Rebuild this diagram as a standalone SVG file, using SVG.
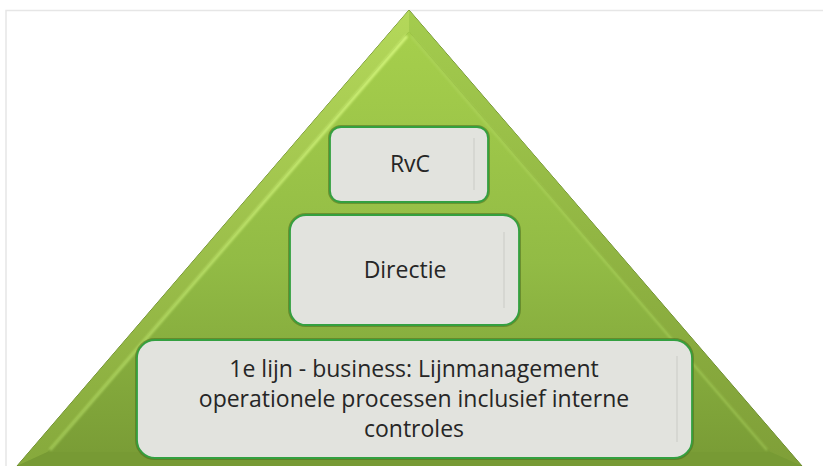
<svg xmlns="http://www.w3.org/2000/svg" width="823" height="466" viewBox="0 0 823 466">
  <defs>
    <linearGradient id="faceGrad" x1="0" y1="0" x2="0" y2="1">
      <stop offset="0" stop-color="#a6cf4c"/>
      <stop offset="0.55" stop-color="#92bb45"/>
      <stop offset="1" stop-color="#7a9d36"/>
    </linearGradient>
    <linearGradient id="leftBevel" x1="0" y1="0" x2="0" y2="1">
      <stop offset="0" stop-color="#b4d85a"/>
      <stop offset="1" stop-color="#86a93c"/>
    </linearGradient>
    <linearGradient id="rightBevel" x1="0" y1="0" x2="0" y2="1">
      <stop offset="0" stop-color="#a4cc4e"/>
      <stop offset="1" stop-color="#7f9f38"/>
    </linearGradient>
    <linearGradient id="ridge" x1="0" y1="0" x2="0" y2="1">
      <stop offset="0" stop-color="#d4f57c"/>
      <stop offset="1" stop-color="#b8e068" stop-opacity="0.6"/>
    </linearGradient>
    <filter id="soft" x="-5%" y="-5%" width="110%" height="110%">
      <feGaussianBlur stdDeviation="0.8"/>
    </filter>
  </defs>
  <style>
    .box { fill: #e2e3de; stroke: #34a040; stroke-width: 1.8; }
    .boxShadow { fill: none; stroke: #4b6e1e; stroke-width: 4; opacity: 0.55; }
    .gloss { stroke: #d6d7d2; stroke-width: 2; }
    .label { font-family: "Open Sans", "Noto Sans", "Liberation Sans", sans-serif; font-size: 23px; fill: #262626; text-anchor: middle; font-variant-ligatures: none; }
  </style>

  <!-- page frame -->
  <path d="M6,466 V10.5 H823" fill="none" stroke="#e6e6e6" stroke-width="1.5"/>

  <!-- pyramid -->
  <g id="pyramid">
    <polygon points="409,10 17,466 802,466" fill="#7d9f37" stroke="#5d7b26" stroke-width="1"/>
    <!-- left bevel -->
    <polygon points="409,10 17,466 47.5,452 409,31.5" fill="url(#leftBevel)"/>
    <!-- right bevel -->
    <polygon points="409,10 802,466 770.5,452 409,31.5" fill="url(#rightBevel)"/>
    <!-- bottom bevel -->
    <polygon points="17,466 802,466 770.5,452 47.5,452" fill="#779a34"/>
    <!-- front face -->
    <polygon points="409,31.5 47.5,452 770.5,452" fill="url(#faceGrad)"/>
    <!-- highlight ridges along the inner edges -->
    <line x1="407" y1="36" x2="50" y2="450" stroke="url(#ridge)" stroke-width="3" filter="url(#soft)"/>
    <line x1="411" y1="36" x2="767" y2="450" stroke="#b3d862" stroke-width="2" opacity="0.6" filter="url(#soft)"/>
  </g>

  <!-- RvC -->
  <g id="rvc">
    <rect class="boxShadow" x="330" y="127" width="158" height="75" rx="11"/>
    <rect class="box" x="330" y="127" width="158" height="75" rx="11"/>
    <line class="gloss" x1="474" y1="138" x2="474" y2="190"/>
    <text class="label" x="410" y="172">RvC</text>
  </g>

  <!-- Directie -->
  <g id="directie">
    <rect class="boxShadow" x="290" y="215" width="229" height="110" rx="16"/>
    <rect class="box" x="290" y="215" width="229" height="110" rx="16"/>
    <line class="gloss" x1="504" y1="232" x2="504" y2="308"/>
    <text class="label" x="405" y="278">Directie</text>
  </g>

  <!-- 1e lijn -->
  <g id="eerste-lijn">
    <rect class="boxShadow" x="137" y="340" width="555" height="118" rx="18"/>
    <rect class="box" x="137" y="340" width="555" height="118" rx="18"/>
    <line class="gloss" x1="677" y1="356" x2="677" y2="442"/>
    <text class="label" x="414" y="377">1e lijn - business: Lijnmanagement</text>
    <text class="label" x="414" y="407">operationele processen inclusief interne</text>
    <text class="label" x="414" y="437">controles</text>
  </g>
</svg>
